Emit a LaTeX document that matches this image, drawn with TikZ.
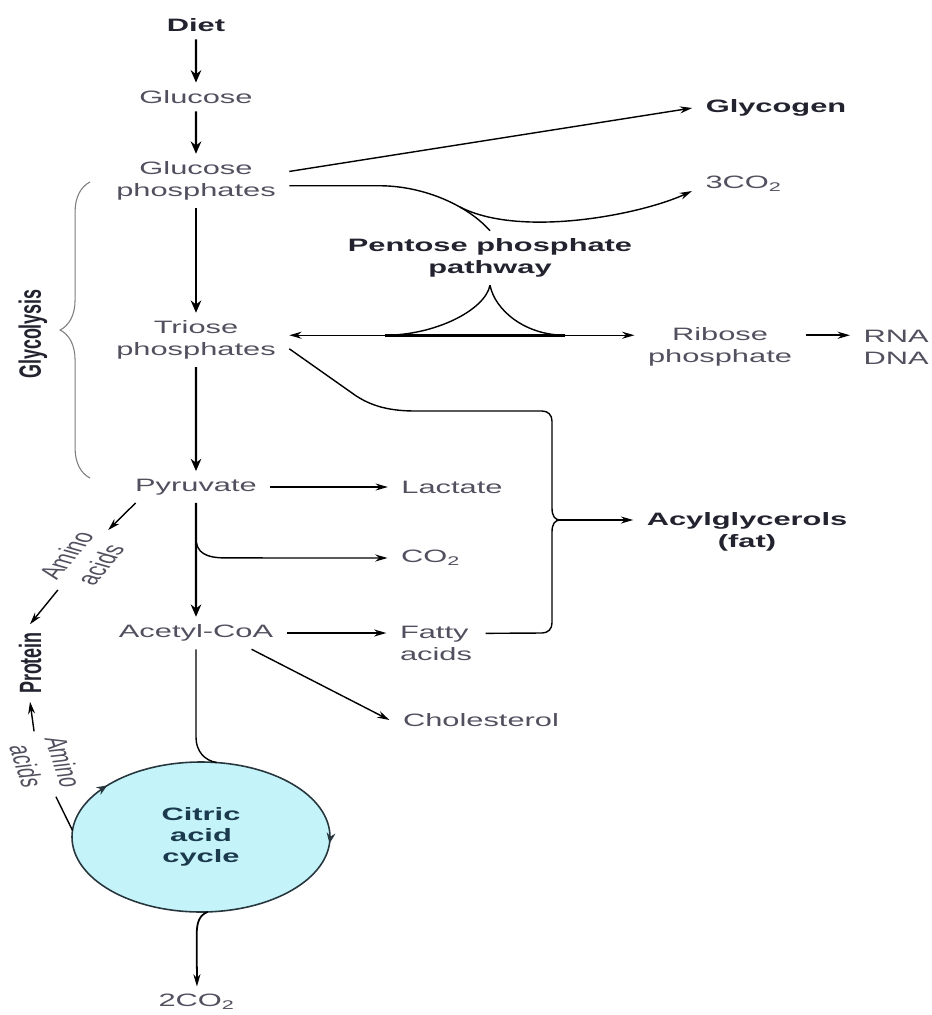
\documentclass[tikz,border=0pt]{standalone}
\usepackage{fontspec}
\setmainfont{Liberation Sans}
\usetikzlibrary{arrows.meta,decorations.pathreplacing,decorations.markings}
\definecolor{metGray}  {RGB}{82,  80,  94}
\definecolor{metDark}  {RGB}{35,  35,  48}
\definecolor{metCyan}  {RGB}{196, 243, 250}
\definecolor{metTeal}  {RGB}{28,  58,  78}
\definecolor{metLine}  {RGB}{40,  55,  62}
\definecolor{metBrace} {RGB}{125, 125, 125}

\begin{document}
\begin{tikzpicture}[x=0.02cm,y=-0.02cm,
    lbl/.style={font=\fontsize{10.2}{12.5}\selectfont,text=metGray,xscale=1.72,
                inner sep=2pt,outer sep=2.5pt,align=center},
    blbl/.style={lbl,font=\fontsize{10.2}{12.5}\selectfont\bfseries,text=metDark},
    cycle/.style={circle,minimum size=3cm,inner sep=0pt,outer sep=0pt,xscale=1.72,
                  fill=metCyan,font=\fontsize{10.2}{12}\selectfont\bfseries,
                  text=metTeal,align=center},
    mainarr/.style={line width=1.3pt,-{Stealth[length=7pt,width=6pt]}},
    thinarr/.style={line width=0.8pt,-{Stealth[length=7pt,width=4pt]}},
    thinline/.style={line width=0.8pt},
    cyclearr/.style={draw=metLine,line width=0.9pt,postaction={decorate},
        decoration={markings,
          mark=at position 0.01 with {\arrow{Stealth[length=6pt,width=5pt]}},
          mark=at position 0.6 with {\arrow{Stealth[length=6pt,width=5pt]}}}}]

    \fill[white] (0,0) rectangle (932,1015);
    \useasboundingbox (0,0) rectangle (932,1015);

    % ── main column ───────────────────────────────────────
    \node[blbl] (diet) at (196,25) {Diet};
    \node[lbl] (glc) at (196,97) {Glucose};
    \node[lbl] (glcp) at (196,181) {Glucose\\phosphates};
    \node[lbl] (triose) at (196,340) {Triose\\phosphates};
    \node[lbl] (pyr) at (196,487) {Pyruvate};
    \node[lbl] (acoa) at (196,633) {Acetyl-CoA};
    \node[cycle] (tca) at (201,837) {Citric\\acid\\cycle};
    \draw[cyclearr] (tca.center) ellipse [x radius=129, y radius=75];
    \node[lbl] (co2c) at (197,1002) {2CO\textsubscript{2}};

    % ── side products ─────────────────────────────────────
    \node[blbl] (glycogen) at (776,108) {Glycogen};
    \node[lbl] (co2a) at (744,184) {3CO\textsubscript{2}};
    \node[blbl] (ppp) at (490,258) {Pentose phosphate\\pathway};
    \node[lbl] (ribose) at (720,347) {Ribose\\phosphate};
    \node[lbl,anchor=west,align=left] (rna) at (850,347) {RNA\\DNA};
    \node[lbl] (lactate) at (452,487) {Lactate};
    \node[lbl] (co2b) at (431,558) {CO\textsubscript{2}};
    \node[lbl,align=left] (fatty) at (436,643) {Fatty\\acids};
    \node[blbl] (acyl) at (747,532) {Acylglycerols\\(fat)};
    \node[lbl] (chol) at (481,720) {Cholesterol};

    % ── left side ─────────────────────────────────────────
    \node[blbl,rotate=90] (glycolysis) at (33,334) {Glycolysis};
    \node[blbl,rotate=90] (protein) at (30,663) {Protein};
    \node[lbl,rotate=64] (aminoA) at (83,560) {Amino\\acids};
    \node[lbl,rotate=-79] (aminoB) at (45,764) {Amino\\acids};
    \draw[metBrace,line width=0.6pt,decorate,decoration={brace,amplitude=17pt}]
      (90,478) -- (90,182);

    % main arrows
    \draw[mainarr] (diet) -- (glc);
    \draw[mainarr] (glc) -- (glcp);
    \draw[mainarr] (glcp) -- (triose);
    \draw[mainarr] (triose) -- (pyr);
    \draw[mainarr] (pyr) -- (acoa);

    % glycogen and pentose phosphate pathway
    \draw[thinarr] (glcp.10) -- (glycogen.west);
    \draw[thinline] (glcp.-5) -- ++(90,0) .. controls +(45,0) and +(-22,-25) .. (ppp.north);
    \coordinate (fork) at (460,207);
    \draw[thinarr] (fork) .. controls (520,238) and (640,215) .. ([yshift=-4pt]co2a.west);
    \draw[thinline] (ppp.south) .. controls +(-5,25) and +(50,0) .. ++(-105,50) coordinate (pl);
    \draw[thinline] (ppp.south) .. controls +(5,25) and +(-40,0) .. ++(75,50) coordinate (pr);
    \draw[thinline,{Stealth[length=7pt,width=4pt]}-{Stealth[length=7pt,width=4pt]}]
      (triose.east |- pl) -- (ribose.west |- pl);
    \draw[line width=1.6pt] (pl) -- (pr);
    \draw[thinarr,line width=1.1pt] (ribose.east |- pl) -- (rna.west |- pl);

    % pyruvate and acetyl-CoA branches
    \draw[thinarr] (pyr) -- (lactate);
    \draw[thinarr] (pyr.south) ++(0,35) .. controls +(0,15) and +(-20,0) .. ++(30,20) -- (co2b);
    \draw[thinarr,line width=1.3pt] (acoa.east) -- (acoa.east -| fatty.west);
    \draw[thinarr] ([xshift=-20pt]acoa.south east) -- (chol.west);
    \draw[thinline] (acoa.south) -- ++(0,88) .. controls +(0,14) and +(-12,-2) .. (tca.83);
    \draw[thinarr,line width=1pt] (tca.-87) .. controls +(-8,3) and +(0,-12) .. ++(-11,22) -- (co2c);

    % acylglycerols bracket
    \coordinate (fatjoin) at (560,520);
    \draw[thinline] ([yshift=-5pt]triose.east) -- (352,393) .. controls (367,404) and (385,411) .. (415,411)
      -- (542,411) .. controls (548,411) and (552,415) .. (552,421)
      -- (552,508) .. controls (552,516) and (555,520) .. (fatjoin);
    \draw[thinline] ([yshift=5.5pt]fatty.east) -- (542,633) .. controls (548,633) and (552,629) .. (552,623)
      -- (552,532) .. controls (552,524) and (555,520) .. (fatjoin);
    \draw[thinarr] (fatjoin) -- (fatjoin -| acyl.west);

    % amino acids to protein
    \draw[thinarr] ([xshift=8pt]pyr.south west) -- (aminoA.east);
    \draw[thinarr] (aminoA.west) -- (protein.east);
    \draw[thinline] (tca.175) -- (aminoB.east);
    \draw[thinarr] (aminoB.west) -- (protein.west);

\end{tikzpicture}
\end{document}
